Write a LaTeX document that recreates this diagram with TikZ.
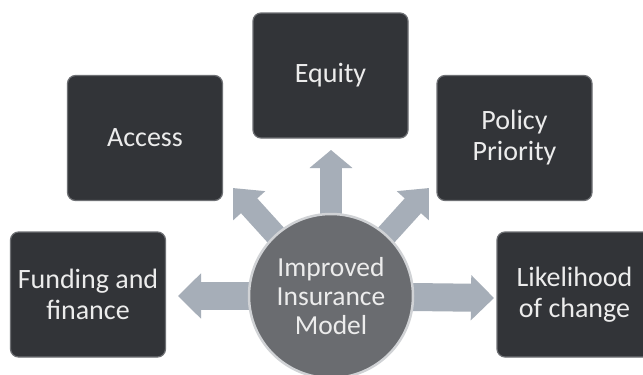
\documentclass[tikz,border=0pt]{standalone}
\usepackage{fontspec}
\setmainfont{Carlito}
\usetikzlibrary{arrows.meta}
\definecolor{boxfill}{RGB}{50,52,56}
\definecolor{boxedge}{RGB}{110,112,116}
\definecolor{hubfill}{RGB}{106,108,112}
\definecolor{hubedge}{RGB}{208,210,213}
\definecolor{arrowfill}{RGB}{166,174,184}
\definecolor{labeltext}{RGB}{236,236,236}
\begin{document}
\begin{tikzpicture}[x=1pt,y=-1pt,
	topic/.style={draw=boxedge, line width=1.2pt, fill=boxfill, rounded corners=8pt, minimum width=155pt, minimum height=125pt, inner sep=0pt, text=labeltext, align=center, font=\fontsize{28}{31}\selectfont},
	hub/.style={circle, draw=hubedge, line width=2.5pt, fill=hubfill, minimum size=164pt, inner sep=0pt, text=labeltext, align=center, font=\fontsize{27.5}{29}\selectfont},
	spoke/.style={arrowfill, line width=#1, -{Triangle[width=44pt,length=23pt]}}]
		\useasboundingbox (0,0) rectangle (643,375);
		\fill[white] (0,0) rectangle (643,375);
		\node[topic] (equity) at (330.5,75.5) {Equity};
		\node[topic] (access) at (145,138) {Access};
		\node[topic] (policy) at (514.5,138) {Policy\\Priority};
		\node[topic] (funding) at (88,294.5) {Funding and\\finance};
		\node[topic] (likelihood) at (574.5,294.5) {Likelihood\\of change};
		\coordinate (hubc) at (331,296);
		\coordinate (tipN) at (331,150);
		\coordinate (tipNW) at (233,188);
		\coordinate (tipNE) at (429,188);
		\coordinate (tipW) at (178,296);
		\coordinate (tipE) at (494,298);
		\draw[spoke=22pt, -{Triangle[width=42pt,length=18pt]}] (hubc) -- (tipN);
		\foreach \t in {tipNW, tipNE}
			\draw[spoke=22pt, -{Triangle[width=42pt,length=24pt]}] (hubc) -- (\t);
		\foreach \t in {tipW, tipE}
			\draw[spoke=28pt] (hubc) -- (\t);
		\node[hub] (model) at (hubc) {Improved\\Insurance\\Model};
\end{tikzpicture}
\end{document}
